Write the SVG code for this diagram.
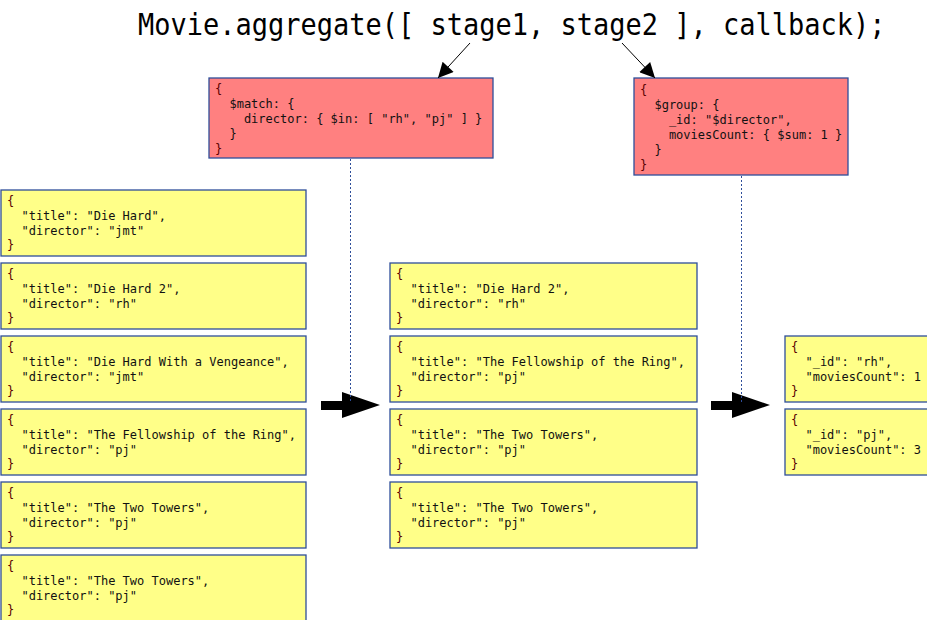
<svg xmlns="http://www.w3.org/2000/svg" width="927" height="620" viewBox="0 0 927 620">
<defs>
<style>
.doc{fill:#FFFF88;stroke:#2E4E9A;stroke-width:1.3}
.stage{fill:#FF8080;stroke:#2E4E9A;stroke-width:1.3}
.t{font-family:"DejaVu Sans Mono","Liberation Mono",monospace;font-size:12px;fill:#111}
.b{fill:#5A0000}
.title{font-family:"DejaVu Sans Mono","Liberation Mono",monospace;font-size:27px;fill:#000}
.dot{stroke:#2E4E9A;stroke-width:1;stroke-dasharray:2,2;fill:none}
.thin{stroke:#000;stroke-width:1;fill:none}
</style>
<marker id="ah" viewBox="0 0 10 10" refX="10" refY="5" markerWidth="18" markerHeight="15" markerUnits="userSpaceOnUse" orient="auto">
<path d="M0,0 L10,5 L0,10 z" fill="#000"/>
</marker>
</defs>
<rect width="927" height="620" fill="#fff"/>
<text class="title" transform="translate(138,35) scale(1,1.12)" x="0" y="0">Movie.aggregate([ stage1, stage2 ], callback);</text>

<g id="stage1">
<rect class="stage" x="209" y="78" width="284" height="80"/>
<text class="t" xml:space="preserve"><tspan class="b" x="215" y="93">{</tspan><tspan x="215" y="108">  $match: {</tspan><tspan x="215" y="123">    director: { $in: [ "rh", "pj" ] }</tspan><tspan x="215" y="138">  }</tspan><tspan class="b" x="215" y="153">}</tspan></text>
</g>
<g id="stage2">
<rect class="stage" x="634" y="78" width="214" height="97"/>
<text class="t" xml:space="preserve"><tspan class="b" x="640" y="94">{</tspan><tspan x="640" y="109">  $group: {</tspan><tspan x="640" y="124">    _id: "$director",</tspan><tspan x="640" y="139">    moviesCount: { $sum: 1 }</tspan><tspan x="640" y="154">  }</tspan><tspan class="b" x="640" y="169">}</tspan></text>
</g>

<g id="in1"><rect class="doc" x="1" y="190" width="305" height="66"/><text class="t" xml:space="preserve"><tspan class="b" x="7" y="205">{</tspan><tspan x="7" y="219.5">  "title": "Die Hard",</tspan><tspan x="7" y="234.5">  "director": "jmt"</tspan><tspan class="b" x="7" y="249">}</tspan></text></g>
<g id="in2"><rect class="doc" x="1" y="263" width="305" height="66"/><text class="t" xml:space="preserve"><tspan class="b" x="7" y="278">{</tspan><tspan x="7" y="292.5">  "title": "Die Hard 2",</tspan><tspan x="7" y="307.5">  "director": "rh"</tspan><tspan class="b" x="7" y="322">}</tspan></text></g>
<g id="in3"><rect class="doc" x="1" y="336" width="305" height="66"/><text class="t" xml:space="preserve"><tspan class="b" x="7" y="351">{</tspan><tspan x="7" y="365.5">  "title": "Die Hard With a Vengeance",</tspan><tspan x="7" y="380.5">  "director": "jmt"</tspan><tspan class="b" x="7" y="395">}</tspan></text></g>
<g id="in4"><rect class="doc" x="1" y="409" width="305" height="66"/><text class="t" xml:space="preserve"><tspan class="b" x="7" y="424">{</tspan><tspan x="7" y="438.5">  "title": "The Fellowship of the Ring",</tspan><tspan x="7" y="453.5">  "director": "pj"</tspan><tspan class="b" x="7" y="468">}</tspan></text></g>
<g id="in5"><rect class="doc" x="1" y="482" width="305" height="66"/><text class="t" xml:space="preserve"><tspan class="b" x="7" y="497">{</tspan><tspan x="7" y="511.5">  "title": "The Two Towers",</tspan><tspan x="7" y="526.5">  "director": "pj"</tspan><tspan class="b" x="7" y="541">}</tspan></text></g>
<g id="in6"><rect class="doc" x="1" y="555" width="305" height="66"/><text class="t" xml:space="preserve"><tspan class="b" x="7" y="570">{</tspan><tspan x="7" y="584.5">  "title": "The Two Towers",</tspan><tspan x="7" y="599.5">  "director": "pj"</tspan><tspan class="b" x="7" y="614">}</tspan></text></g>

<g id="mid1"><rect class="doc" x="390" y="263" width="307" height="66"/><text class="t" xml:space="preserve"><tspan class="b" x="396" y="278">{</tspan><tspan x="396" y="292.5">  "title": "Die Hard 2",</tspan><tspan x="396" y="307.5">  "director": "rh"</tspan><tspan class="b" x="396" y="322">}</tspan></text></g>
<g id="mid2"><rect class="doc" x="390" y="336" width="307" height="66"/><text class="t" xml:space="preserve"><tspan class="b" x="396" y="351">{</tspan><tspan x="396" y="365.5">  "title": "The Fellowship of the Ring",</tspan><tspan x="396" y="380.5">  "director": "pj"</tspan><tspan class="b" x="396" y="395">}</tspan></text></g>
<g id="mid3"><rect class="doc" x="390" y="409" width="307" height="66"/><text class="t" xml:space="preserve"><tspan class="b" x="396" y="424">{</tspan><tspan x="396" y="438.5">  "title": "The Two Towers",</tspan><tspan x="396" y="453.5">  "director": "pj"</tspan><tspan class="b" x="396" y="468">}</tspan></text></g>
<g id="mid4"><rect class="doc" x="390" y="482" width="307" height="66"/><text class="t" xml:space="preserve"><tspan class="b" x="396" y="497">{</tspan><tspan x="396" y="511.5">  "title": "The Two Towers",</tspan><tspan x="396" y="526.5">  "director": "pj"</tspan><tspan class="b" x="396" y="541">}</tspan></text></g>

<g id="out1"><rect class="doc" x="785" y="336" width="150" height="66"/><text class="t" xml:space="preserve"><tspan class="b" x="791" y="351">{</tspan><tspan x="791" y="365.5">  "_id": "rh",</tspan><tspan x="791" y="380.5">  "moviesCount": 1</tspan><tspan class="b" x="791" y="395">}</tspan></text></g>
<g id="out2"><rect class="doc" x="785" y="409" width="150" height="66"/><text class="t" xml:space="preserve"><tspan class="b" x="791" y="424">{</tspan><tspan x="791" y="438.5">  "_id": "pj",</tspan><tspan x="791" y="453.5">  "moviesCount": 3</tspan><tspan class="b" x="791" y="468">}</tspan></text></g>

<g id="connectors">
<line class="thin" x1="470" y1="43" x2="438" y2="78" marker-end="url(#ah)"/>
<line class="thin" x1="622" y1="43" x2="655" y2="78" marker-end="url(#ah)"/>
<path d="M321,401 L342,401 L342,392 L380,405 L342,418 L342,410 L321,410 z" fill="#000"/>
<path d="M711,401 L732,401 L732,392 L770,405 L732,418 L732,410 L711,410 z" fill="#000"/>
<line class="dot" x1="350.5" y1="159" x2="350.5" y2="403"/>
<line class="dot" x1="741.5" y1="176" x2="741.5" y2="403"/>
</g>
</svg>
